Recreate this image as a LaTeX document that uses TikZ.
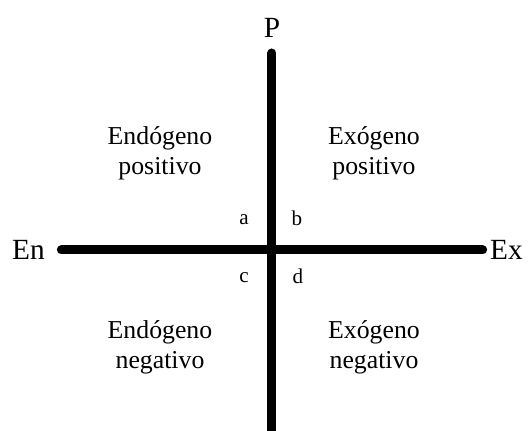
\documentclass[tikz,border=0pt]{standalone}
\usepackage{fontspec}
\setmainfont{Liberation Serif}
\usetikzlibrary{positioning}
\tikzset{
  qdaxis/.style={line width=0.27cm, line cap=round},
  qdend/.style={font=\fontsize{25}{30}\selectfont, inner sep=2pt},
  qdtext/.style={align=center, font=\fontsize{22}{25.5}\selectfont, inner sep=0pt},
  qdcorner/.style={font=\fontsize{18}{20}\selectfont, inner sep=0pt},
}

\begin{document}
\begin{tikzpicture}
  \useasboundingbox (-8.16,-5.43) rectangle (7.68,7.5);

  \coordinate (o) at (0,0);
  \coordinate (top) at (0,5.91);
  \coordinate (bot) at (0,-5.6);
  \coordinate (lft) at (-6.32,0);
  \coordinate (rgt) at (6.32,0);

  \draw[qdaxis] (top) -- (bot);
  \draw[qdaxis] (lft) -- (rgt);

  \node[qdend, above=0.38cm of top] (p) {P};
  \node[qdend, left=0.42cm of lft] (en) {En};
  \node[qdend, right=0.15cm of rgt] (ex) {Ex};

  \node[qdtext] (endpos) at (-3.36,2.91) {Endógeno\\positivo};
  \node[qdtext] (exopos) at (3.06,2.91) {Exógeno\\positivo};
  \node[qdtext] (endneg) at (-3.36,-2.91) {Endógeno\\negativo};
  \node[qdtext] (exoneg) at (3.06,-2.91) {Exógeno\\negativo};

  \node[qdcorner] (a) at (-0.84,0.9) {a};
  \node[qdcorner] (b) at (0.75,0.95) {b};
  \node[qdcorner] (c) at (-0.84,-0.84) {c};
  \node[qdcorner] (d) at (0.78,-0.8) {d};
\end{tikzpicture}
\end{document}
